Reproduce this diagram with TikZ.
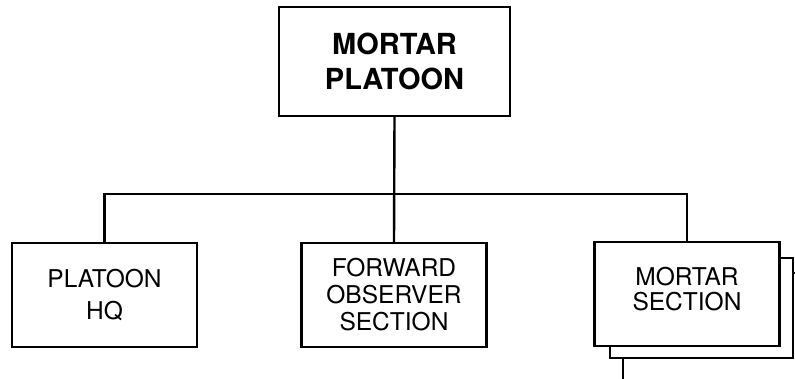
\documentclass[tikz,border=0pt]{standalone}
\usepackage{fontspec}
\setmainfont{TeX Gyre Heros}
\usepackage{tikz}
\usetikzlibrary{positioning,calc}

\begin{document}
\begin{tikzpicture}[x=1pt, y=1pt, line width=2.4pt,
  unitbox/.style={draw, fill=white, minimum width=185pt, minimum height=104pt,
                  inner sep=0pt, align=center,
                  font=\fontsize{24.5}{27}\selectfont},
  hqbox/.style={unitbox, minimum width=231pt, minimum height=109pt,
                font=\fontsize{29}{35}\selectfont\bfseries}]

%% ── Frame (795 x 378) ────────────────────────────────────────────────────────
\clip (0, 0) rectangle (795, 378);

%% ── Platoon headquarters ─────────────────────────────────────────────────────
\node[hqbox] (plt) at (394.5, 316.5) {MORTAR\\PLATOON};

%% ── Stacked mortar sections (behind) ────────────────────────────────────────
\draw[fill=white] (623, -20) rectangle (806, 105);
\draw[fill=white] (610, 20) rectangle (793, 120);

%% ── Subordinate elements ─────────────────────────────────────────────────────
\node[unitbox] (hq)  at (104.5, 83) {PLATOON\\[5pt]HQ};
\node[unitbox] (fo)  at (394, 83)   {FORWARD\\OBSERVER\\SECTION};
\node[unitbox] (sec) at (687, 84)   {MORTAR\\[-2pt]SECTION\\[-16pt]\mbox{}};

%% ── Connectors ───────────────────────────────────────────────────────────────
\coordinate (bus) at (394, 184);
\draw (plt.south) -- (fo.north);
\draw (hq.north) |- (sec.north |- bus) -- (sec.north);

\end{tikzpicture}
\end{document}
